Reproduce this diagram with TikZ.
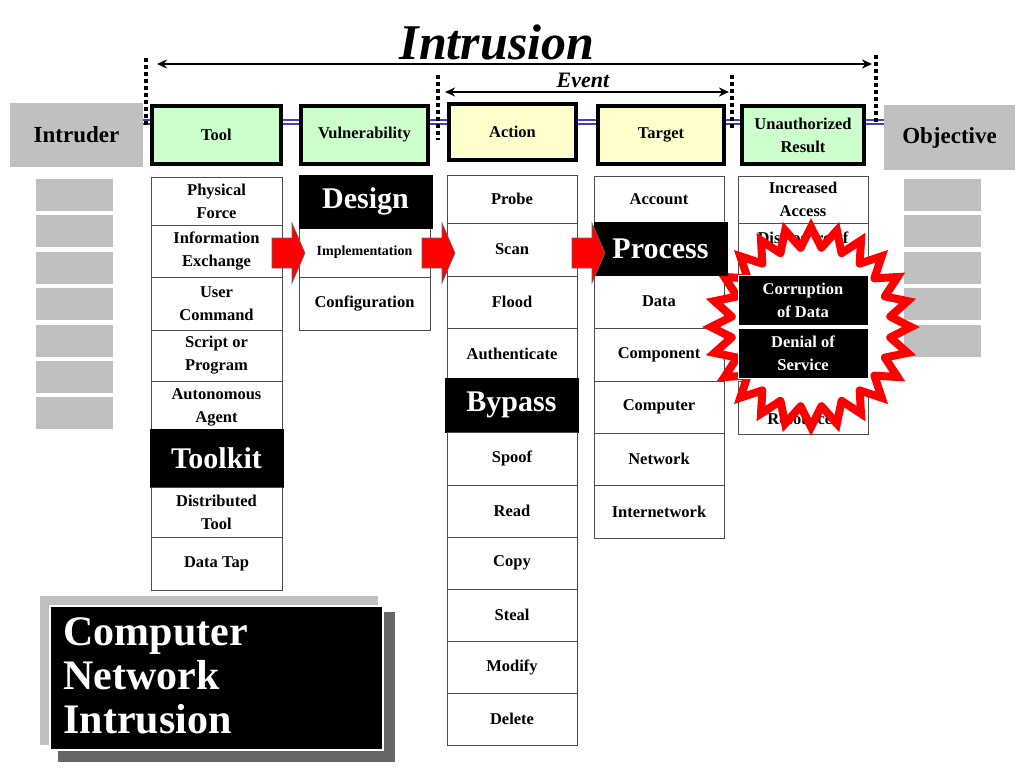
\documentclass[tikz,border=0pt]{standalone}
\usepackage{fontspec}
\setmainfont{Liberation Serif}
\usetikzlibrary{arrows.meta}
\definecolor{hgreen}{HTML}{CCFFCC}
\definecolor{hyellow}{HTML}{FFFFCC}
\definecolor{lgray}{HTML}{C0C0C0}
\definecolor{dgray}{HTML}{666666}
\definecolor{lblue}{HTML}{4040C0}
\tikzset{
  cellbox/.style={draw=black!70,line width=0.8pt,fill=white,inner sep=0pt,outer sep=0pt,align=center,font=\bfseries\fontsize{16.5}{23}\selectfont},
  blackbox/.style={draw=black,fill=black,text=white,inner sep=0pt,outer sep=0pt,align=center,font=\bfseries\fontsize{30}{32}\selectfont},
  blackbox2/.style={draw=white,line width=0.8pt,fill=black,text=white,inner sep=0pt,outer sep=0pt,align=center,font=\bfseries\fontsize{16.5}{23}\selectfont},
  headbox/.style={draw=black,line width=4pt,inner sep=0pt,outer sep=0pt,align=center,font=\bfseries\fontsize{16.5}{23}\selectfont},
  graybox/.style={fill=lgray,inner sep=0pt,outer sep=0pt,align=center,font=\bfseries\fontsize{23}{25}\selectfont},
  dotline/.style={line width=3.5pt,dash pattern=on 3.5pt off 3.5pt},
  redarrow/.style={fill=red,draw=black!60,line width=0.6pt},
  bigarrow/.style={line width=2.8pt,{Stealth[length=10pt,width=9pt]}-{Stealth[length=10pt,width=9pt]}},
}
\newcommand\mybox[7]{\node[#1,minimum width={#5-#3},minimum height={#6-#4}] (#2) at ({(#3+#5)/2},{(#4+#6)/2}) {#7};}
\newcommand\redarr[2]{\draw[redarrow] (#1-3,#2-15)--(#1+17,#2-15)--(#1+17,#2-30)--(#1+30,#2)--(#1+17,#2+30)--(#1+17,#2+15)--(#1-3,#2+15)--cycle;}
\begin{document}
\begin{tikzpicture}[x=1pt,y=-1pt]
\useasboundingbox[fill=white] (0,0) rectangle (1024,768);
% title
\node[font=\bfseries\itshape\fontsize{50}{52}\selectfont] (title) at (497,42) {Intrusion};
\node[font=\bfseries\itshape\fontsize{22}{24}\selectfont] (event) at (583,80) {Event};
\coordinate (ia) at (157,64); \coordinate (ib) at (872,64);
\draw[bigarrow] (ia)--(ib);
\coordinate (ea) at (445,92); \coordinate (eb) at (729,92);
\draw[bigarrow] (ea)--(eb);
% blue double line
\draw[lblue,line width=1.2pt] (143,120)--(884,120) (143,124)--(884,124);
\draw[dotline] (146,58)--(146,125);
\draw[dotline] (876,55)--(876,122);
\draw[dotline] (438,75)--(438,140);
\draw[dotline] (732,75)--(732,130);
% headers
\mybox{graybox}{intruder}{10}{103}{143}{167}{Intruder}
\mybox{graybox}{objective}{884}{105}{1015}{170}{Objective}
\mybox{headbox,fill=hgreen}{tool}{152}{106}{281}{164}{Tool}
\mybox{headbox,fill=hgreen}{vuln}{301}{106}{428}{164}{Vulnerability}
\mybox{headbox,fill=hyellow}{action}{449}{104}{576}{160}{Action}
\mybox{headbox,fill=hyellow}{target}{598}{106}{724}{164}{Target}
\mybox{headbox,fill=hgreen}{result}{742}{106}{864}{164}{Unauthorized\\Result}
% side gray boxes
\foreach \y in {179,215,252,288,325,361,397}{\fill[lgray] (36,\y) rectangle (113,\y+32);}
\foreach \y in {179,215,252,288,325}{\fill[lgray] (904,\y) rectangle (981,\y+32);}
% tool column
\mybox{cellbox}{t1}{151}{177}{282}{225}{Physical\\Force}
\mybox{cellbox}{t2}{151}{225}{282}{277}{Information\\Exchange}
\mybox{cellbox}{t3}{151}{277}{282}{330}{User\\Command}
\mybox{cellbox}{t4}{151}{330}{282}{381}{Script or\\Program}
\mybox{cellbox}{t5}{151}{381}{282}{433}{Autonomous\\Agent}
\mybox{blackbox}{t6}{150}{429}{283}{487}{Toolkit}
\mybox{cellbox}{t7}{151}{487}{282}{537}{Distributed\\Tool}
\mybox{cellbox}{t8}{151}{537}{282}{590}{Data Tap}
% vulnerability
\mybox{cellbox,font=\bfseries\fontsize{14}{16}\selectfont}{v2}{299}{228}{430}{277}{Implementation}
\mybox{cellbox}{v3}{299}{277}{430}{330}{Configuration}
\mybox{blackbox}{v1}{299}{175}{432}{228}{Design}
% action
\mybox{cellbox}{a1}{447}{175}{577}{223}{Probe}
\mybox{cellbox}{a2}{447}{223}{577}{276}{Scan}
\mybox{cellbox}{a3}{447}{276}{577}{328}{Flood}
\mybox{cellbox}{a4}{447}{328}{577}{380}{Authenticate}
\mybox{blackbox}{a5}{445}{378}{578}{432}{Bypass}
\mybox{cellbox}{a6}{447}{432}{577}{485}{Spoof}
\mybox{cellbox}{a7}{447}{485}{577}{537}{Read}
\mybox{cellbox}{a8}{447}{537}{577}{589}{Copy}
\mybox{cellbox}{a9}{447}{589}{577}{641}{Steal}
\mybox{cellbox}{a10}{447}{641}{577}{693}{Modify}
\mybox{cellbox}{a11}{447}{693}{577}{745}{Delete}
% target
\mybox{cellbox}{g1}{594}{176}{724}{223}{Account}
\mybox{cellbox}{g3}{594}{275}{724}{328}{Data}
\mybox{cellbox}{g4}{594}{328}{724}{381}{Component}
\mybox{cellbox}{g5}{594}{381}{724}{433}{Computer}
\mybox{cellbox}{g6}{594}{433}{724}{485}{Network}
\mybox{cellbox}{g7}{594}{485}{724}{538}{Internetwork}
% result
\mybox{cellbox}{r1}{738}{176}{868}{223}{Increased\\Access}
\mybox{cellbox}{r2}{738}{223}{868}{275}{Disclosure of\\Information}
\mybox{cellbox}{r5}{738}{381}{868}{434}{Theft of\\Resources}
% starburst: white star with red zigzag outline
\fill[white] (811,327) circle (80);
\foreach \k in {0,...,23}{\fill[white,shift={(811,327)},rotate=\k*15] (79.3,-10.4) -- (100,0) -- (79.3,10.4) -- cycle;}
\foreach \k in {0,...,23}{\draw[red,line width=8pt,line cap=round,line join=miter,shift={(811,327)},rotate=\k*15] (79.3,-10.4) -- (100,0) -- (79.3,10.4);}
\mybox{blackbox2}{r3}{738}{275}{868}{325}{Corruption\\of Data}
\mybox{blackbox2}{r4}{738}{328}{868}{378}{Denial of\\Service}
\mybox{blackbox}{g2}{594}{222}{727}{275}{Process}
% red arrows
\redarr{275}{253}
\redarr{425}{253}
\redarr{575}{253}
% bottom-left box
\fill[lgray] (40,596) rectangle (378,745);
\fill[dgray] (58,612) rectangle (395,762);
\mybox{blackbox2,line width=2pt}{cni}{50}{606}{383}{750}{}
\node[anchor=west,text=white,align=left,font=\bfseries\fontsize{42}{44}\selectfont] (cnt) at (60,676) {Computer\\Network\\Intrusion};
\end{tikzpicture}
\end{document}
